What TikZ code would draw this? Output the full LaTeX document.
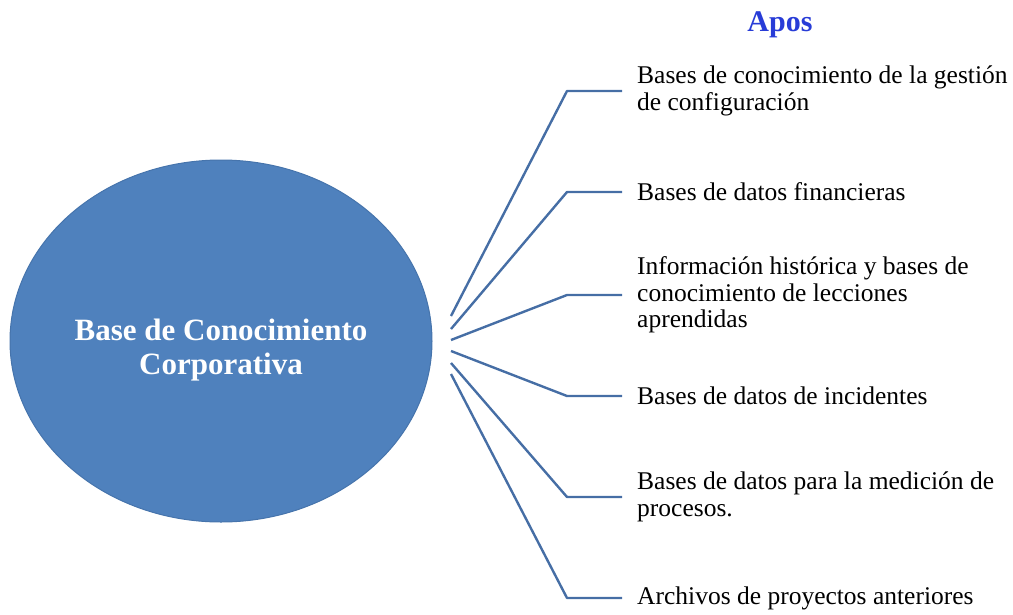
\documentclass[tikz,border=0pt]{standalone}
\usepackage{fontspec}
\usetikzlibrary{shapes.geometric}
\setmainfont{Liberation Serif}
\definecolor{ellblue}{RGB}{79,129,189}
\definecolor{elledge}{RGB}{70,116,172}
\definecolor{linkblue}{RGB}{70,110,165}
\definecolor{titleblue}{RGB}{40,60,215}
\begin{document}
\begin{tikzpicture}[x=1pt,y=-1pt,
  itemtext/.style={anchor=west,align=left,inner xsep=15pt,inner ysep=0pt,
    font=\rmfamily\fontsize{25.5}{26.5}\selectfont,text=black},
  link/.style={draw=linkblue,line width=2.4pt,line join=round}]
\useasboundingbox (0,0) rectangle (1013,614);
\node[ellipse,fill=ellblue,draw=elledge,line width=1pt,minimum width=422pt,minimum height=362pt,inner sep=0pt] (core) at (221,341) {};
\node[text=white,font=\rmfamily\bfseries\fontsize{31}{34}\selectfont,align=center] (corelabel) at (221,350) {Base de Conocimiento\\Corporativa};
\node[text=titleblue,font=\rmfamily\bfseries\fontsize{30}{30}\selectfont] (title) at (780,25) {Apos};
\foreach \i/\sy/\ey in {1/316/91,2/329/192,3/340/295,4/351/396,5/363/497,6/374/598}{
  \coordinate (s\i) at (451,\sy);
  \coordinate (e\i) at (567,\ey);
}
\node[itemtext] (t1) at (622,91) {Bases de conocimiento de la gestión\\de configuración};
\node[itemtext] (t2) at (622,192) {Bases de datos financieras};
\node[itemtext] (t3) at (622,295) {Información histórica y bases de\\conocimiento de lecciones\\aprendidas};
\node[itemtext] (t4) at (622,396) {Bases de datos de incidentes};
\node[itemtext] (t5) at (622,497) {Bases de datos para la medición de\\procesos.};
\node[itemtext] (t6) at (622,598) {Archivos de proyectos anteriores};
\foreach \i in {1,...,6}{
  \draw[link] (s\i) -- (e\i) -- (t\i.west);
}
\end{tikzpicture}
\end{document}
